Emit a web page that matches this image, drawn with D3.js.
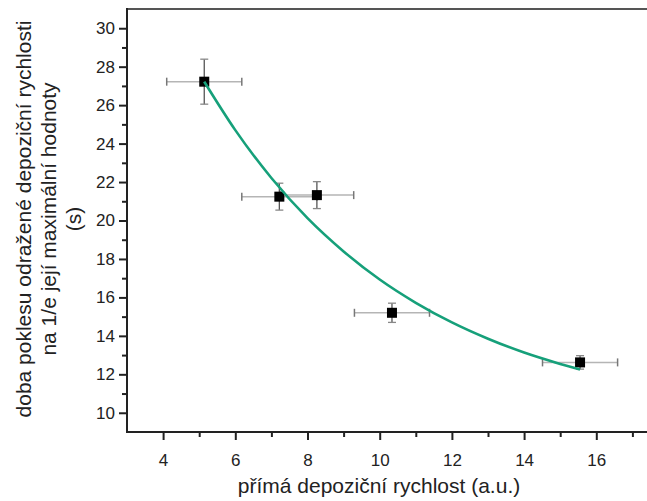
<!DOCTYPE html>
<html>
<head>
<meta charset="utf-8">
<script src="https://cdn.jsdelivr.net/npm/d3@7"></script>
<style>
  html, body { margin: 0; padding: 0; background: #fff; }
  svg { display: block; font-family: "Liberation Sans", Arial, sans-serif; }
</style>
</head>
<body>
<svg id="chart" width="647" height="501"></svg>
<script>
// ---- data ----
const xValues = [5.14, 7.22, 8.26, 10.34, 15.55];
const yValues = [27.22, 21.24, 21.32, 15.20, 12.62];
const xErrors = [1.04, 1.04, 1.02, 1.04, 1.04];
const yErrors = [1.17, 0.70, 0.70, 0.50, 0.35];
const fitX = [5.14, 6, 7, 8, 9, 10, 11, 12, 13, 14, 15, 15.55];
const fitY = [27.22, 24.70, 22.21, 20.12, 18.39, 16.93, 15.72, 14.70, 13.85, 13.13, 12.54, 12.25];
const xTicks = [4, 6, 8, 10, 12, 14, 16];
const yTicks = [10, 12, 14, 16, 18, 20, 22, 24, 26, 28, 30];
const xMinorTicks = [5, 7, 9, 11, 13, 15, 17];
const yMinorTicks = [11, 13, 15, 17, 19, 21, 23, 25, 27, 29];
const xTitle = "přímá depoziční rychlost (a.u.)";
const yTitleLines = ["doba poklesu odražené depoziční rychlosti", "na 1/e její maximální hodnoty", "(s)"];

// ---- layout ----
const svg = d3.select("#chart");
const mLeft = 127, mTop = 9, mBottom = 432;
const x = d3.scaleLinear().domain([3, 17.5]).range([mLeft, mLeft + 14.5 * 36.1]);
const y = d3.scaleLinear().domain([9, 31]).range([mBottom, mTop]);

// top frame line
svg.append("line")
  .attr("x1", mLeft).attr("x2", 647)
  .attr("y1", mTop).attr("y2", mTop)
  .attr("stroke", "#555").attr("stroke-width", 2);

// x axis
const xAxis = svg.append("g").attr("transform", `translate(0,${mBottom})`)
  .call(d3.axisBottom(x).tickValues(xTicks).tickSize(8).tickPadding(14).tickFormat(d3.format("d")));
xAxis.select(".domain").remove();
xAxis.selectAll("text").attr("font-size", 17).attr("fill", "#222");
xAxis.selectAll("line").attr("stroke", "#222").attr("stroke-width", 2);
svg.append("g").attr("transform", `translate(0,${mBottom})`)
  .call(d3.axisBottom(x).tickValues(xMinorTicks).tickSize(5).tickFormat(""))
  .call(g => g.select(".domain").remove())
  .selectAll("line").attr("stroke", "#222").attr("stroke-width", 2);
svg.append("line")
  .attr("x1", mLeft - 1).attr("x2", 647)
  .attr("y1", mBottom).attr("y2", mBottom)
  .attr("stroke", "#222").attr("stroke-width", 2);

// y axis
const yAxis = svg.append("g").attr("transform", `translate(${mLeft},0)`)
  .call(d3.axisLeft(y).tickValues(yTicks).tickSize(8).tickPadding(4).tickFormat(d3.format("d")));
yAxis.select(".domain").remove();
yAxis.selectAll("text").attr("font-size", 17).attr("fill", "#222");
yAxis.selectAll("line").attr("stroke", "#222").attr("stroke-width", 2);
svg.append("g").attr("transform", `translate(${mLeft},0)`)
  .call(d3.axisLeft(y).tickValues(yMinorTicks).tickSize(5).tickFormat(""))
  .call(g => g.select(".domain").remove())
  .selectAll("line").attr("stroke", "#222").attr("stroke-width", 2);
svg.append("line")
  .attr("x1", mLeft).attr("x2", mLeft)
  .attr("y1", mTop - 1).attr("y2", mBottom + 1)
  .attr("stroke", "#222").attr("stroke-width", 2);

// data
const pts = xValues.map((v, i) => ({x: v, y: yValues[i], ex: xErrors[i], ey: yErrors[i]}));

// horizontal error bars
const hb = svg.append("g").attr("stroke", "#b5b5b5").attr("stroke-width", 1.5);
pts.forEach(p => {
  hb.append("line").attr("x1", x(p.x - p.ex)).attr("x2", x(p.x + p.ex)).attr("y1", y(p.y)).attr("y2", y(p.y));
  [p.x - p.ex, p.x + p.ex].forEach(v =>
    hb.append("line").attr("x1", x(v)).attr("x2", x(v)).attr("y1", y(p.y) - 4).attr("y2", y(p.y) + 4).attr("stroke", "#777"));
});
// vertical error bars
const vb = svg.append("g").attr("stroke", "#555").attr("stroke-width", 1.3);
pts.forEach(p => {
  vb.append("line").attr("x1", x(p.x)).attr("x2", x(p.x)).attr("y1", y(p.y - p.ey)).attr("y2", y(p.y + p.ey));
  [p.y - p.ey, p.y + p.ey].forEach(v =>
    vb.append("line").attr("x1", x(p.x) - 4).attr("x2", x(p.x) + 4).attr("y1", y(v)).attr("y2", y(v)).attr("stroke", "#888"));
});

// markers
svg.append("g").selectAll("rect").data(pts).join("rect")
  .attr("x", d => x(d.x) - 5).attr("y", d => y(d.y) - 5)
  .attr("width", 10).attr("height", 10).attr("fill", "#000");

// fit curve
const fit = fitX.map((v, i) => [v, fitY[i]]);
svg.append("path").datum(fit)
  .attr("fill", "none").attr("stroke", "#16a07a").attr("stroke-width", 2.6)
  .attr("d", d3.line().x(d => x(d[0])).y(d => y(d[1])).curve(d3.curveMonotoneX));

// axis titles
svg.append("text").attr("x", 379).attr("y", 493)
  .attr("text-anchor", "middle").attr("font-size", 21).attr("fill", "#222")
  .text(xTitle);
const yt = svg.append("text").attr("transform", "translate(0,219) rotate(-90)")
  .attr("text-anchor", "middle").attr("font-size", 21).attr("fill", "#222");
yTitleLines.forEach((t, i) => {
  yt.append("tspan").attr("x", 0).attr("y", 31 + i * 25).text(t);
});
</script>
</body>
</html>
